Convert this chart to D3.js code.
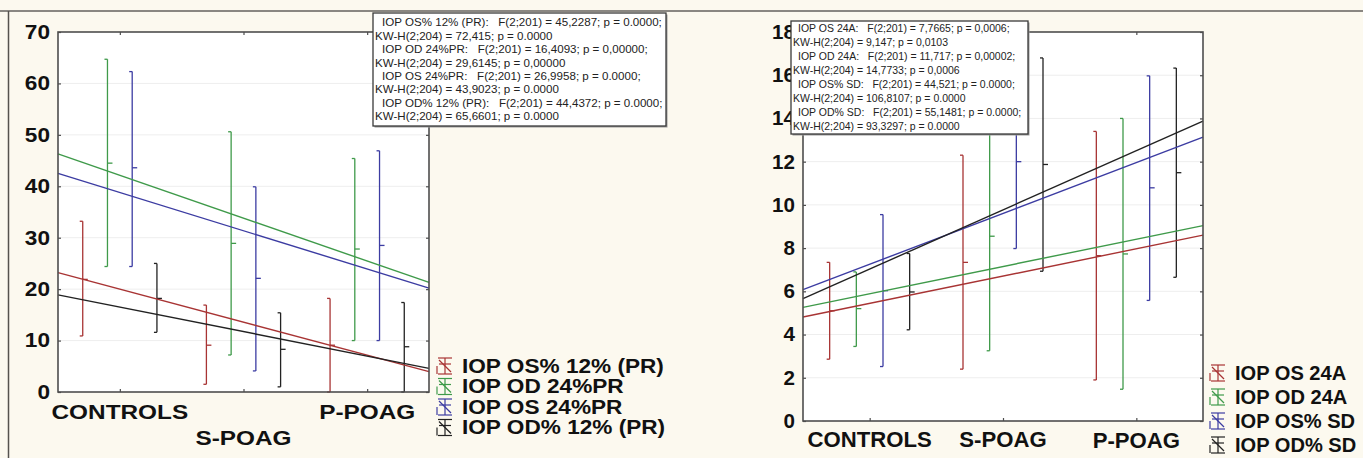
<!DOCTYPE html>
<html><head><meta charset="utf-8">
<script src="https://cdn.jsdelivr.net/npm/d3@7"></script>
<style>
html,body{margin:0;padding:0;background:#fcf9ef;}
svg{display:block;font-family:"Liberation Sans",Arial,Helvetica,sans-serif;}
text{white-space:pre;}
</style></head><body>
<svg id="fig" width="1363" height="458"></svg>
<script>
// ---- shared ----
const groups = ["CONTROLS", "S-POAG", "P-POAG"];
const seriesColors = ["#a83434", "#3f9a4a", "#3c3ca2", "#222222"];

// ---- left panel: IOP percentage / 24%PR series ----
const leftSeries = ["IOP OS% 12% (PR)", "IOP OD 24%PR", "IOP OS 24%PR", "IOP OD% 12% (PR)"];
const leftMean = [[21.9, 9.1, 9.1], [44.5, 28.9, 27.8], [43.6, 22.1, 28.5], [18.2, 8.3, 8.8]];
const leftLow  = [[10.9, 1.5, 0.0], [24.4, 7.2, 10.0], [24.4, 4.1, 10.0], [11.6, 1.0, 0.0]];
const leftHigh = [[33.2, 16.9, 18.2], [64.7, 50.6, 45.4], [62.3, 39.9, 46.9], [25.0, 15.4, 17.4]];
const leftIntercept = [26.41, 50.47, 46.22, 21.28];
const leftSlope = [-6.417, -8.333, -7.433, -4.767];
const leftTicks = [0, 10, 20, 30, 40, 50, 60, 70];
const leftF = [
  "F(2;201) = 45,2287; p = 0.0000;",
  "F(2;201) = 16,4093; p = 0,00000;",
  "F(2;201) = 26,9958; p = 0.0000;",
  "F(2;201) = 44,4372; p = 0.0000;"
];
const leftKW = [
  "KW-H(2;204) = 72,415; p = 0.0000",
  "KW-H(2;204) = 29,6145; p = 0,00000",
  "KW-H(2;204) = 43,9023; p = 0.0000",
  "KW-H(2;204) = 65,6601; p = 0.0000"
];

// ---- right panel: 24A / SD series ----
const rightSeries = ["IOP OS 24A", "IOP OD 24A", "IOP OS% SD", "IOP OD% SD"];
const rightMean = [[5.1, 7.34, 7.65], [5.2, 8.55, 7.73], [6.03, 12.0, 10.79], [5.97, 11.87, 11.49]];
const rightLow  = [[2.86, 2.4, 1.9], [3.45, 3.25, 1.47], [2.52, 7.98, 5.58], [4.22, 6.93, 6.65]];
const rightHigh = [[7.34, 12.3, 13.4], [6.9, 13.85, 14.0], [9.55, 16.0, 15.97], [7.75, 16.8, 16.33]];
const rightIntercept = [4.18, 4.63, 4.90, 4.29];
const rightSlope = [1.263, 1.26, 2.353, 2.74];
const rightTicks = [0, 2, 4, 6, 8, 10, 12, 14, 16, 18];
const rightF = [
  "F(2;201) = 7,7665; p = 0,0006;",
  "F(2;201) = 11,717; p = 0,00002;",
  "F(2;201) = 44,521; p = 0.0000;",
  "F(2;201) = 55,1481; p = 0.0000;"
];
const rightKW = [
  "KW-H(2;204) = 9,147; p = 0,0103",
  "KW-H(2;204) = 14,7733; p = 0,0006",
  "KW-H(2;204) = 106,8107; p = 0.0000",
  "KW-H(2;204) = 93,3297; p = 0.0000"
];

const svg = d3.select("#fig");

// outer frame of the figure
svg.append("line").attr("x1", 0).attr("x2", 1363).attr("y1", 11).attr("y2", 11)
  .attr("stroke", "#8a8782").attr("stroke-width", 2);
svg.append("line").attr("x1", 8.5).attr("x2", 8.5).attr("y1", 11).attr("y2", 458)
  .attr("stroke", "#55524e").attr("stroke-width", 1.5);

// text helper with horizontal stretch
function stretchedText(g, x, y, str, o) {
  return g.append("text")
    .attr("transform", `translate(${x},${y}) scale(${o.sx},1)`)
    .attr("text-anchor", o.anchor || "start")
    .attr("dominant-baseline", "central")
    .attr("font-size", o.size)
    .attr("font-weight", o.weight || "normal")
    .attr("fill", o.fill || "#111")
    .text(str);
}

function drawPanel(cfg) {
  const g = svg.append("g");
  const x = d3.scaleLinear().domain([0.5, 3.5]).range([cfg.x0, cfg.x1]);
  const y = d3.scaleLinear().domain([0, cfg.yMax]).range([cfg.y1, cfg.y0]);
  const offsets = [-0.3, -0.1, 0.1, 0.3];

  g.append("rect").attr("x", cfg.x0).attr("y", cfg.y0)
    .attr("width", cfg.x1 - cfg.x0).attr("height", cfg.y1 - cfg.y0).attr("fill", "#fff");

  // faint grid
  g.append("g").selectAll("line").data(cfg.ticks.slice(1, -1)).join("line")
    .attr("x1", cfg.x0).attr("x2", cfg.x1)
    .attr("y1", d => y(d)).attr("y2", d => y(d))
    .attr("stroke", "#eeeeee").attr("stroke-width", 1);

  // error bars: whisker, caps and mean mark
  cfg.mean.forEach((row, s) => {
    const col = seriesColors[s];
    const bars = g.append("g").attr("stroke", col).attr("stroke-width", 1.3).attr("fill", "none");
    row.forEach((m, i) => {
      const cx = x(i + 1 + offsets[s]);
      const lo = cfg.low[s][i], hi = cfg.high[s][i];
      bars.append("line").attr("x1", cx).attr("x2", cx).attr("y1", y(lo)).attr("y2", y(hi));
      bars.append("line").attr("x1", cx - 3).attr("x2", cx).attr("y1", y(hi)).attr("y2", y(hi));
      bars.append("line").attr("x1", cx - 3).attr("x2", cx).attr("y1", y(lo)).attr("y2", y(lo));
      bars.append("line").attr("x1", cx).attr("x2", cx + 5).attr("y1", y(m)).attr("y2", y(m));
    });
  });

  // fitted regression lines across the group axis
  const fitLine = d3.line().x(d => x(d[0])).y(d => y(d[1]));
  cfg.intercept.forEach((b, s) => {
    const k = cfg.slope[s];
    g.append("path")
      .attr("d", fitLine([[0.5, b + k * 0.5], [3.5, b + k * 3.5]]))
      .attr("stroke", seriesColors[s]).attr("stroke-width", 1.4).attr("fill", "none");
  });

  // frame with inward ticks
  g.append("rect").attr("x", cfg.x0).attr("y", cfg.y0)
    .attr("width", cfg.x1 - cfg.x0).attr("height", cfg.y1 - cfg.y0)
    .attr("fill", "none").attr("stroke", "#4e4e4e").attr("stroke-width", 1.6);

  const axL = d3.axisLeft(y).tickValues(cfg.ticks).tickSize(-3).tickFormat("");
  const axR = d3.axisRight(y).tickValues(cfg.ticks).tickSize(-3).tickFormat("");
  const axB = d3.axisBottom(x).tickValues([1, 2, 3]).tickSize(-3).tickFormat("");
  const axT = d3.axisTop(x).tickValues([1, 2, 3]).tickSize(-3).tickFormat("");
  [[axL, `translate(${cfg.x0},0)`], [axR, `translate(${cfg.x1},0)`],
   [axB, `translate(0,${cfg.y1})`], [axT, `translate(0,${cfg.y0})`]].forEach(([ax, tr]) => {
    const a = g.append("g").attr("transform", tr).call(ax);
    a.select(".domain").remove();
    a.selectAll(".tick line").attr("stroke", "#4e4e4e").attr("stroke-width", 1.2);
  });

  // y tick labels
  cfg.ticks.forEach(t => {
    stretchedText(g, cfg.x0 - 8, y(t), String(t),
      {sx: cfg.sx, size: cfg.tickSize, weight: "bold", anchor: "end"});
  });

  // category labels
  groups.forEach((name, i) => {
    stretchedText(g, x(i + 1), cfg.catY[i], name,
      {sx: cfg.sx, size: cfg.catSize, weight: "bold", anchor: "middle"});
  });

  // legend: whisker symbol crossed by the fit line
  cfg.series.forEach((name, s) => {
    const ly = cfg.legY + s * cfg.legStep;
    const lx = cfg.legX;
    const ic = g.append("g").attr("stroke", seriesColors[s]).attr("stroke-width", 1.2).attr("fill", "none");
    ic.append("line").attr("x1", lx + 1).attr("x2", lx + 15).attr("y1", ly - 8).attr("y2", ly - 8);
    ic.append("line").attr("x1", lx + 1).attr("x2", lx + 15).attr("y1", ly + 8).attr("y2", ly + 8);
    ic.append("line").attr("x1", lx + 8).attr("x2", lx + 8).attr("y1", ly - 8).attr("y2", ly + 8);
    ic.append("line").attr("x1", lx + 2).attr("x2", lx + 14).attr("y1", ly - 2).attr("y2", ly - 2);
    ic.append("line").attr("x1", lx + 2).attr("x2", lx + 14).attr("y1", ly - 6).attr("y2", ly + 6);
    ic.append("line").attr("x1", lx).attr("x2", lx).attr("y1", ly).attr("y2", ly + 8);
    stretchedText(g, lx + 25, ly, name,
      {sx: cfg.sx, size: cfg.legSize, weight: "bold", anchor: "start"});
  });

  // statistics box
  const bx = cfg.box;
  g.append("rect").attr("x", bx.x + 1.5).attr("y", bx.y + 1.5).attr("width", bx.w).attr("height", bx.h)
    .attr("fill", "#9a9a9a");
  g.append("rect").attr("x", bx.x).attr("y", bx.y).attr("width", bx.w).attr("height", bx.h)
    .attr("fill", "#fff").attr("stroke", "#3a3a3a").attr("stroke-width", 1.3);
  const step = (bx.h - 2 * bx.pad) / 8;
  cfg.series.forEach((name, s) => {
    const y1 = bx.y + bx.pad + step * (2 * s + 0.5);
    const y2 = bx.y + bx.pad + step * (2 * s + 1.5);
    stretchedText(g, bx.x + bx.indent, y1, name + ":   " + cfg.F[s],
      {sx: cfg.sx, size: bx.size, fill: "#222"});
    stretchedText(g, bx.x + 2, y2, cfg.KW[s],
      {sx: cfg.sx, size: bx.size, fill: "#222"});
  });
}

drawPanel({
  x0: 58, x1: 429, y0: 32, y1: 392, yMax: 70, ticks: leftTicks,
  mean: leftMean, low: leftLow, high: leftHigh,
  intercept: leftIntercept, slope: leftSlope, series: leftSeries,
  F: leftF, KW: leftKW,
  sx: 1.16, tickSize: 19.5, catSize: 21, legSize: 19.5,
  catY: [412, 438, 412],
  legX: 437, legY: 366, legStep: 20.5,
  box: {x: 373, y: 13, w: 293, h: 113, pad: 3, indent: 9, size: 10}
});

drawPanel({
  x0: 803, x1: 1203, y0: 32, y1: 421, yMax: 18, ticks: rightTicks,
  mean: rightMean, low: rightLow, high: rightHigh,
  intercept: rightIntercept, slope: rightSlope, series: rightSeries,
  F: rightF, KW: rightKW,
  sx: 1.03, tickSize: 20, catSize: 21.5, legSize: 19.5,
  catY: [440, 440, 441],
  legX: 1210, legY: 373, legStep: 24,
  box: {x: 791, y: 21, w: 237, h: 113, pad: 1, indent: 7, size: 10.2}
});
</script>
</body></html>
